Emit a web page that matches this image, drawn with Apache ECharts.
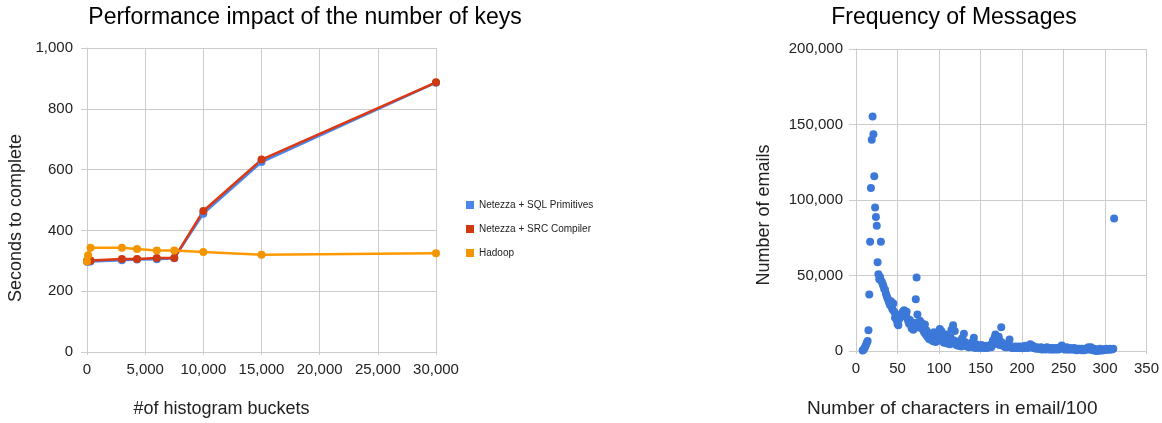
<!DOCTYPE html>
<html>
<head>
<meta charset="utf-8">
<script src="https://cdn.jsdelivr.net/npm/echarts@6/dist/echarts.min.js"></script>
<style>
html,body{margin:0;padding:0;background:#fff;}
#chart{width:1162px;height:423px;}
</style>
</head>
<body>
<div id="chart"></div>
<script>
// ---- Left chart data ----
const buckets = [0, 100, 300, 3000, 4300, 6000, 7500, 10000, 15000, 30000];
const sqlPrimitives = [297, 297, 298, 302, 304, 305, 308, 455, 625, 886];
const srcCompiler = [300, 300, 301, 306, 306, 309, 309, 464, 633, 887];
const hadoop = [298, 318, 343, 343, 339, 334, 334, 329, 320, 325];
const seriesNames = ['Netezza + SQL Primitives', 'Netezza + SRC Compiler', 'Hadoop'];

// ---- Right chart data ----
const charLengths = [
  8,9,10,11,12,13,14,15,16,17,18,19,20,21,22,23,24,25,26,27,28,29,30,
  31,32,33,34,35,36,37,38,39,40,41,42,43,44,45,46,47,48,49,50,
  51,52,53,54,55,56,57,58,59,60,61,62,63,64,65,66,67,68,69,70,
  71,72,73,74,75,76,77,78,79,80,81,82,83,84,85,86,87,88,89,90,
  91,92,93,94,95,96,97,98,99,100,101,102,103,104,105,106,107,108,109,110,
  111,112,113,114,115,116,117,118,119,120,121,122,123,124,125,126,127,128,129,130,
  131,132,133,134,135,136,137,138,139,140,141,142,143,144,145,146,147,148,149,150,
  151,152,153,154,155,156,157,158,159,160,161,162,163,164,165,166,167,168,169,170,
  171,172,173,174,175,176,177,178,179,180,181,182,183,184,185,186,187,188,189,190,
  191,192,193,194,195,196,197,198,199,200,201,202,203,204,205,206,207,208,209,210,
  211,212,213,214,215,216,217,218,219,220,221,222,223,224,225,226,227,228,229,230,
  231,232,233,234,235,236,237,238,239,240,241,242,243,244,245,246,247,248,249,250,
  251,252,253,254,255,256,257,258,259,260,261,262,263,264,265,266,267,268,269,270,
  271,272,273,274,275,276,277,278,279,280,281,282,283,284,285,286,287,288,289,290,
  291,292,293,294,295,296,297,298,299,300,301,302,303,304,305,306,307,308,309,310,
  311
];
const emailCounts = [
  300,800,1600,2800,4000,5500,6600,13800,37500,72400,107900,139900,155300,143600,115800,95000,88800,82900,58700,50900,47500,49000,72400,
  46000,44500,43000,41000,40500,38000,36500,35000,33500,32000,30500,33000,29000,27500,31500,26000,22000,24500,20500,18000,
  17000,21000,23500,22500,24000,25500,26500,27000,25000,23500,26000,21500,19500,18000,20500,17500,15000,16500,14000,15500,
  18500,34200,48700,24100,19000,15500,20000,17000,18500,14500,16000,12500,17500,11000,13500,9500,12000,8000,10500,7500,
  11000,9000,6500,12500,8500,6000,10000,7000,12000,9000,14500,8000,13000,6500,10500,5500,9500,7000,11000,5000,
  8500,6000,4500,9000,14000,5500,17100,7000,13200,5000,4000,6000,3500,5000,4000,7000,3000,8500,4500,11400,
  6000,3500,5000,3000,4500,2500,4000,3000,5500,4000,2500,8700,3500,2000,4500,3000,2500,3500,2000,3000,
  4000,2500,3500,2000,3000,2500,3500,2000,3000,2500,3500,4000,2500,5000,7000,4500,9000,10900,6000,8500,
  5000,9500,4000,6500,15800,5500,3500,4500,3000,2500,3500,2500,3000,4000,7600,3000,2500,2000,3000,2500,
  2000,2500,3000,2000,2500,2000,3000,2500,2000,2500,3000,2500,2000,3500,2500,3000,2000,2500,3000,4500,
  3000,2500,3500,2000,2500,2000,1500,2500,2000,1500,2000,1500,2500,1000,2000,1500,2000,1000,1500,2500,
  1500,2000,1000,1500,2000,1000,1500,1000,2000,1500,1000,1500,2000,1000,1500,2000,3000,3700,2500,1500,
  2000,1000,1500,2500,1000,1500,1000,2000,1500,1000,1500,1000,2000,1000,1500,500,1000,1500,1000,1500,
  1000,500,1500,1000,500,1000,1500,1000,2000,2500,1000,1500,2500,1000,500,1000,1500,500,0,300,
  500,1000,200,1500,800,300,1000,500,1200,800,1000,1500,800,1200,1000,1500,1200,1000,1300,1500,
  87700
];

const FONT = '"Liberation Sans", Arial, sans-serif';
const GRID_C = '#cccccc';
const LABEL_C = '#222222';

function pairs(xs, ys) { return xs.map((x, i) => [x, ys[i]]); }

const chart = echarts.init(document.getElementById('chart'), null, {renderer: 'canvas'});

const axisCommon = {
  type: 'value',
  axisLine: {show: true, lineStyle: {color: GRID_C, width: 1}},
  splitLine: {show: true, lineStyle: {color: GRID_C, width: 1}},
  axisLabel: {color: LABEL_C, fontSize: 15, fontFamily: FONT},
  nameLocation: 'middle',
  nameTextStyle: {color: LABEL_C, fontSize: 18, fontFamily: FONT}
};

const option = {
  animation: false,
  backgroundColor: '#ffffff',
  textStyle: {fontFamily: FONT},
  title: [
    {text: 'Performance impact of the number of keys', left: 300, top: 1, textAlign: 'center',
     textStyle: {fontFamily: FONT, fontSize: 23, fontWeight: 'normal', color: '#000'}},
    {text: 'Frequency of Messages', left: 949, top: 1, textAlign: 'center',
     textStyle: {fontFamily: FONT, fontSize: 23, fontWeight: 'normal', color: '#000'}}
  ],
  legend: {
    data: seriesNames,
    orient: 'vertical',
    left: 461,
    top: 195,
    itemWidth: 8,
    itemHeight: 8,
    itemGap: 14,
    icon: 'rect',
    textStyle: {fontSize: 10, color: LABEL_C, fontFamily: FONT}
  },
  grid: [
    {left: 87, top: 48, width: 349, height: 304.5},
    {left: 856, top: 49, width: 292, height: 304}
  ],
  xAxis: [
    Object.assign({}, axisCommon, {
      gridIndex: 0, min: 0, max: 30000, interval: 5000,
      axisTick: {show: true, length: 3, lineStyle: {color: GRID_C}},
      axisLabel: Object.assign({}, axisCommon.axisLabel, {margin: 10}),
      name: '#of histogram buckets', nameGap: 48,
      nameTextStyle: Object.assign({}, axisCommon.nameTextStyle, {padding: [0, 80, 0, 0]})
    }),
    Object.assign({}, axisCommon, {
      gridIndex: 1, min: 0, max: 350, interval: 50,
      axisTick: {show: true, length: 3, lineStyle: {color: GRID_C}},
      axisLabel: Object.assign({}, axisCommon.axisLabel, {margin: 10}),
      name: 'Number of characters in email/100', nameGap: 48,
      nameTextStyle: Object.assign({}, axisCommon.nameTextStyle, {fontSize: 19, padding: [0, 98, 0, 0]})
    })
  ],
  yAxis: [
    Object.assign({}, axisCommon, {
      gridIndex: 0, min: 0, max: 1000, interval: 200,
      axisTick: {show: true, length: 6, lineStyle: {color: GRID_C}},
      axisLabel: Object.assign({}, axisCommon.axisLabel, {margin: 14}),
      name: 'Seconds to complete', nameGap: 62,
      nameTextStyle: Object.assign({}, axisCommon.nameTextStyle, {padding: [0, 36, 0, 0]})
    }),
    Object.assign({}, axisCommon, {
      gridIndex: 1, min: 0, max: 200000, interval: 50000,
      axisTick: {show: true, length: 7, lineStyle: {color: GRID_C}},
      axisLabel: Object.assign({}, axisCommon.axisLabel, {margin: 13}),
      name: 'Number of emails', nameGap: 83,
      nameTextStyle: Object.assign({}, axisCommon.nameTextStyle, {padding: [0, 30, 0, 0]})
    })
  ],
  series: [
    {name: seriesNames[0], type: 'line', xAxisIndex: 0, yAxisIndex: 0,
     data: pairs(buckets, sqlPrimitives), symbol: 'circle', symbolSize: 8,
     lineStyle: {width: 2.5, color: '#4a86e8'}, itemStyle: {color: '#4a86e8'}},
    {name: seriesNames[1], type: 'line', xAxisIndex: 0, yAxisIndex: 0,
     data: pairs(buckets, srcCompiler), symbol: 'circle', symbolSize: 8,
     lineStyle: {width: 2.5, color: '#dc3912'}, itemStyle: {color: '#d0380f'}},
    {name: seriesNames[2], type: 'line', xAxisIndex: 0, yAxisIndex: 0,
     data: pairs(buckets, hadoop), symbol: 'circle', symbolSize: 8,
     lineStyle: {width: 2.5, color: '#ff9900'}, itemStyle: {color: '#f29500'}},
    {name: 'Emails', type: 'scatter', xAxisIndex: 1, yAxisIndex: 1,
     data: pairs(charLengths, emailCounts), symbol: 'circle', symbolSize: 8,
     itemStyle: {color: '#3c78d8', opacity: 1}}
  ]
};

chart.setOption(option);
</script>
</body>
</html>
